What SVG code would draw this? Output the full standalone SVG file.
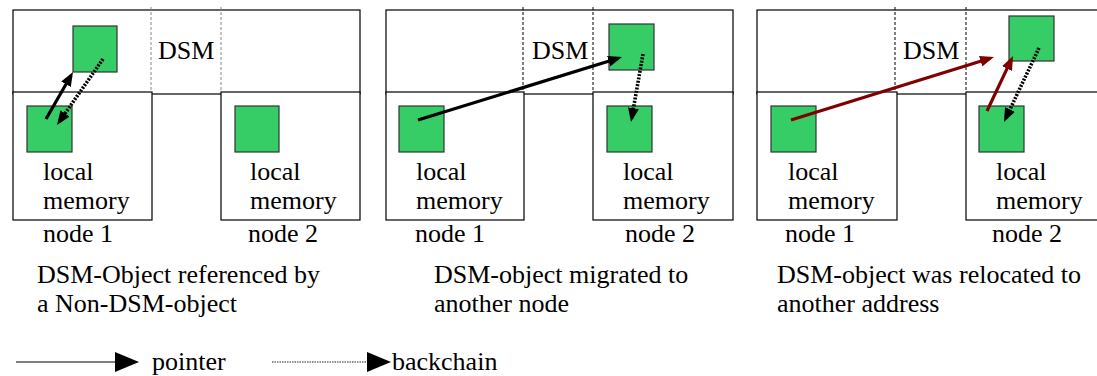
<svg xmlns="http://www.w3.org/2000/svg" width="1097" height="376" viewBox="0 0 1097 376">
  <style>
    .frame { fill: #fff; stroke: #000; stroke-width: 1.2; }
    .obj { fill: #36cc66; stroke: #333; stroke-width: 1.2; }
    .sep { stroke: #000; stroke-width: 1; stroke-dasharray: 3 2; fill: none; }
    .sep.grey { stroke: #888; }
    .ptr { stroke: #000; stroke-width: 3.2; fill: none; marker-end: url(#head); }
    .ptr.red { stroke: #800000; marker-end: url(#headRed); }
    .back { stroke: #000; stroke-width: 3.6; stroke-dasharray: 2 1.4; fill: none; marker-end: url(#head); }
  </style>
  <defs>
    <marker id="head" markerUnits="userSpaceOnUse" markerWidth="14" markerHeight="11" refX="10" refY="5.5" orient="auto">
      <path d="M0,0 L14,5.5 L0,11 z" fill="#000"/>
    </marker>
    <marker id="headRed" markerUnits="userSpaceOnUse" markerWidth="14" markerHeight="11" refX="10" refY="5.5" orient="auto">
      <path d="M0,0 L14,5.5 L0,11 z" fill="#800000"/>
    </marker>
    <marker id="legendHead" markerUnits="userSpaceOnUse" markerWidth="24" markerHeight="20" refX="0" refY="10" orient="auto">
      <path d="M0,0 L24,10 L0,20 z" fill="#000"/>
    </marker>
  </defs>

  <!-- Panel 1: DSM object referenced by a non-DSM object -->
  <g id="panel1">
    <g id="p1-dsm">
      <rect class="frame" x="13" y="10" width="347" height="84"/>
      <line class="sep grey" x1="151" y1="7" x2="151" y2="92"/>
      <line class="sep grey" x1="221" y1="7" x2="221" y2="92"/>
      <text x="158" y="59" font-family="Liberation Serif" font-size="26">DSM</text>
      <rect class="obj" x="73" y="26" width="44" height="46"/>
    </g>
    <g id="p1-node1">
      <rect class="frame" x="13" y="92" width="139" height="128"/>
      <rect class="obj" x="27" y="106" width="45" height="46"/>
      <text x="43" y="180" font-family="Liberation Serif" font-size="26">local</text>
      <text x="43" y="209" font-family="Liberation Serif" font-size="26">memory</text>
      <text x="43" y="242" font-family="Liberation Serif" font-size="26">node 1</text>
    </g>
    <g id="p1-node2">
      <rect class="frame" x="221" y="92" width="139" height="128"/>
      <rect class="obj" x="235" y="106" width="44" height="46"/>
      <text x="250" y="180" font-family="Liberation Serif" font-size="26">local</text>
      <text x="250" y="209" font-family="Liberation Serif" font-size="26">memory</text>
      <text x="248" y="242" font-family="Liberation Serif" font-size="26">node 2</text>
    </g>
    <text x="37" y="283" font-family="Liberation Serif" font-size="26">DSM-Object referenced by</text>
    <text x="37" y="312" font-family="Liberation Serif" font-size="26">a Non-DSM-object</text>
  </g>

  <!-- Panel 2: DSM object migrated to another node -->
  <g id="panel2">
    <g id="p2-dsm">
      <rect class="frame" x="386" y="10" width="347" height="84"/>
      <line class="sep" x1="523" y1="7" x2="523" y2="92"/>
      <line class="sep" x1="593" y1="7" x2="593" y2="92"/>
      <text x="532" y="59" font-family="Liberation Serif" font-size="26">DSM</text>
      <rect class="obj" x="609" y="24" width="45" height="46"/>
    </g>
    <g id="p2-node1">
      <rect class="frame" x="386" y="92" width="138" height="128"/>
      <rect class="obj" x="399" y="106" width="45" height="46"/>
      <text x="416" y="180" font-family="Liberation Serif" font-size="26">local</text>
      <text x="416" y="209" font-family="Liberation Serif" font-size="26">memory</text>
      <text x="415" y="242" font-family="Liberation Serif" font-size="26">node 1</text>
    </g>
    <g id="p2-node2">
      <rect class="frame" x="593" y="92" width="140" height="128"/>
      <rect class="obj" x="607" y="106" width="45" height="46"/>
      <text x="623" y="180" font-family="Liberation Serif" font-size="26">local</text>
      <text x="623" y="209" font-family="Liberation Serif" font-size="26">memory</text>
      <text x="625" y="242" font-family="Liberation Serif" font-size="26">node 2</text>
    </g>
    <text x="434" y="283" font-family="Liberation Serif" font-size="26">DSM-object migrated to</text>
    <text x="434" y="312" font-family="Liberation Serif" font-size="26">another node</text>
  </g>

  <!-- Panel 3: DSM object relocated to another address -->
  <g id="panel3">
    <g id="p3-dsm">
      <rect class="frame" x="757" y="10" width="350" height="84"/>
      <line class="sep" x1="895" y1="7" x2="895" y2="92"/>
      <line class="sep" x1="966" y1="7" x2="966" y2="92"/>
      <text x="903" y="59" font-family="Liberation Serif" font-size="26">DSM</text>
      <rect class="obj" x="1009" y="16" width="45" height="45"/>
    </g>
    <g id="p3-node1">
      <rect class="frame" x="757" y="92" width="140" height="128"/>
      <rect class="obj" x="771" y="106" width="45" height="46"/>
      <text x="788" y="180" font-family="Liberation Serif" font-size="26">local</text>
      <text x="788" y="209" font-family="Liberation Serif" font-size="26">memory</text>
      <text x="785" y="242" font-family="Liberation Serif" font-size="26">node 1</text>
    </g>
    <g id="p3-node2">
      <rect class="frame" x="966" y="92" width="140" height="128"/>
      <rect class="obj" x="979" y="106" width="45" height="46"/>
      <text x="996" y="180" font-family="Liberation Serif" font-size="26">local</text>
      <text x="996" y="209" font-family="Liberation Serif" font-size="26">memory</text>
      <text x="992" y="242" font-family="Liberation Serif" font-size="26">node 2</text>
    </g>
    <text x="777" y="283" font-family="Liberation Serif" font-size="26">DSM-object was relocated to</text>
    <text x="777" y="312" font-family="Liberation Serif" font-size="26">another address</text>
  </g>

  <!-- Pointers and backchains -->
  <g id="connectors">
    <line class="ptr" x1="46" y1="119" x2="71" y2="75.5"/>
    <line class="back" x1="103" y1="59" x2="59.3" y2="121.7"/>

    <line class="ptr" x1="418" y1="120" x2="618.2" y2="58.2"/>
    <line class="back" x1="643" y1="54" x2="631.7" y2="118.1"/>

    <line class="ptr red" x1="791" y1="120" x2="990.2" y2="58.2"/>
    <line class="ptr red" x1="987" y1="111" x2="1011.3" y2="59.6"/>
    <line class="back" x1="1039" y1="48" x2="1005.7" y2="118.4"/>
  </g>

  <!-- Legend -->
  <g id="legend">
    <line x1="16" y1="362" x2="115" y2="362" stroke="#000" stroke-width="1.2" marker-end="url(#legendHead)"/>
    <text x="152" y="370" font-family="Liberation Serif" font-size="26">pointer</text>
    <line x1="272" y1="362" x2="367" y2="362" stroke="#222" stroke-width="1" stroke-dasharray="1.5 1" marker-end="url(#legendHead)"/>
    <text x="392" y="370" font-family="Liberation Serif" font-size="26">backchain</text>
  </g>
</svg>
